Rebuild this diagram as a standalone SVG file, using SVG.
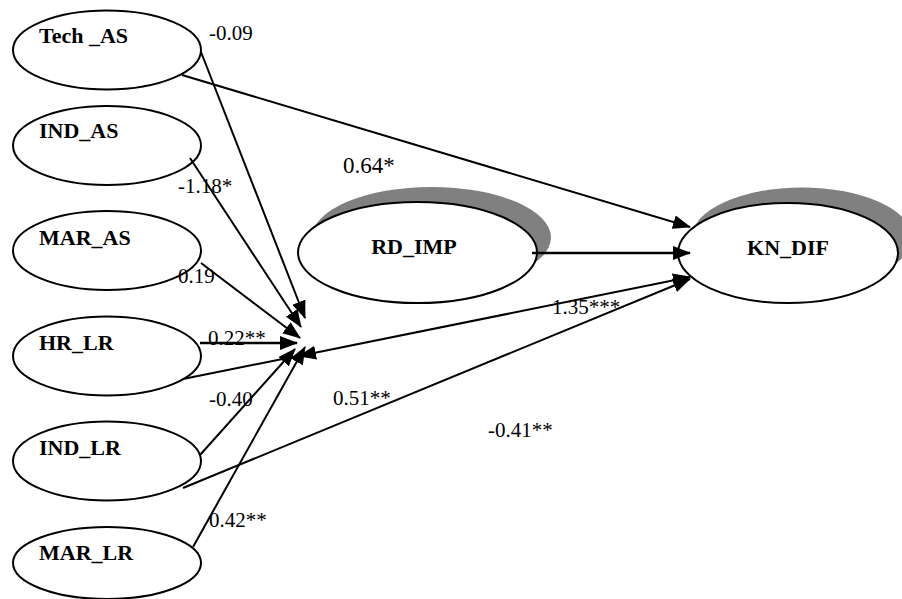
<svg xmlns="http://www.w3.org/2000/svg" width="902" height="599" viewBox="0 0 902 599">
  <style>
    .node { fill: #ffffff; stroke: #000000; stroke-width: 2; }
    .shadow { fill: #808080; stroke: none; }
    .name { font-family: "Liberation Serif", "Times New Roman", serif; font-weight: bold; font-size: 22px; fill: #000000; }
    .coef { font-family: "Liberation Serif", "Times New Roman", serif; font-size: 21px; fill: #000000; }
    .edge { fill: none; stroke: #000000; stroke-width: 2; }
    .edge.heavy { stroke-width: 2.6; }
  </style>
  <defs>
    <marker id="head" viewBox="0 0 18 14" refX="17" refY="7" markerWidth="18" markerHeight="14" markerUnits="userSpaceOnUse" orient="auto-start-reverse">
      <path d="M0,0 L18,7 L0,14 z" fill="#000000"/>
    </marker>
  </defs>

  <rect width="902" height="599" fill="#ffffff"/>

  <!-- exogenous constructs -->
  <g id="tech_as">
    <ellipse class="node" cx="107" cy="50" rx="94" ry="39.5"/>
    <text class="name" x="39" y="43">Tech _AS</text>
  </g>
  <g id="ind_as">
    <ellipse class="node" cx="107" cy="145.5" rx="94" ry="39.5"/>
    <text class="name" x="39" y="138">IND_AS</text>
  </g>
  <g id="mar_as">
    <ellipse class="node" cx="107" cy="250.5" rx="94" ry="39.5"/>
    <text class="name" x="39" y="245">MAR_AS</text>
  </g>
  <g id="hr_lr">
    <ellipse class="node" cx="107" cy="356" rx="94" ry="39.5"/>
    <text class="name" x="39" y="350">HR_LR</text>
  </g>
  <g id="ind_lr">
    <ellipse class="node" cx="107" cy="461" rx="94" ry="39.5"/>
    <text class="name" x="39" y="455">IND_LR</text>
  </g>
  <g id="mar_lr">
    <ellipse class="node" cx="107" cy="563" rx="94" ry="36"/>
    <text class="name" x="39" y="560">MAR_LR</text>
  </g>

  <!-- endogenous constructs with drop shadow -->
  <g id="rd_imp">
    <ellipse class="shadow" cx="431.5" cy="237.5" rx="119.5" ry="50.5"/>
    <ellipse class="node" cx="417.5" cy="252.5" rx="119.5" ry="50.5"/>
    <text class="name" x="414" y="254" text-anchor="middle">RD_IMP</text>
  </g>
  <g id="kn_dif">
    <ellipse class="shadow" cx="802" cy="237.5" rx="110" ry="50"/>
    <ellipse class="node" cx="788" cy="253" rx="110" ry="50"/>
    <text class="name" x="788" y="255" text-anchor="middle">KN_DIF</text>
  </g>

  <!-- paths -->
  <g id="connectors">
    <path class="edge" d="M201,52 L305,318" marker-end="url(#head)"/>
    <path class="edge" d="M190,158 L301,327" marker-end="url(#head)"/>
    <path class="edge" d="M201,263 L300,338" marker-end="url(#head)"/>
    <path class="edge heavy" d="M200,343 L297,343" marker-end="url(#head)"/>
    <path class="edge" d="M200,455 L295,349" marker-end="url(#head)"/>
    <path class="edge" d="M193,547 L305,347" marker-end="url(#head)"/>
    <path class="edge" d="M183,379 L300,355.5"/>
    <path class="edge" d="M299,356 L690,277" marker-start="url(#head)" marker-end="url(#head)"/>
    <path class="edge" d="M183,488 L690,279" marker-end="url(#head)"/>
    <path class="edge" d="M182,75 L690,227" marker-end="url(#head)"/>
    <path class="edge heavy" d="M532,253 L690,253" marker-end="url(#head)"/>
  </g>

  <!-- path coefficients -->
  <g id="coefficients">
    <text class="coef" x="209" y="40">-0.09</text>
    <text class="coef" x="178" y="193">-1.18*</text>
    <text class="coef" x="178" y="283">0.19</text>
    <text class="coef" x="208" y="345">0.22**</text>
    <text class="coef" x="209" y="406">-0.40</text>
    <text class="coef" x="209" y="527">0.42**</text>
    <text class="coef" x="333" y="405">0.51**</text>
    <text class="coef" x="488" y="437">-0.41**</text>
    <text class="coef" x="552" y="314">1.35***</text>
    <text class="coef" x="343" y="173" style="font-size:23px">0.64*</text>
  </g>
</svg>
